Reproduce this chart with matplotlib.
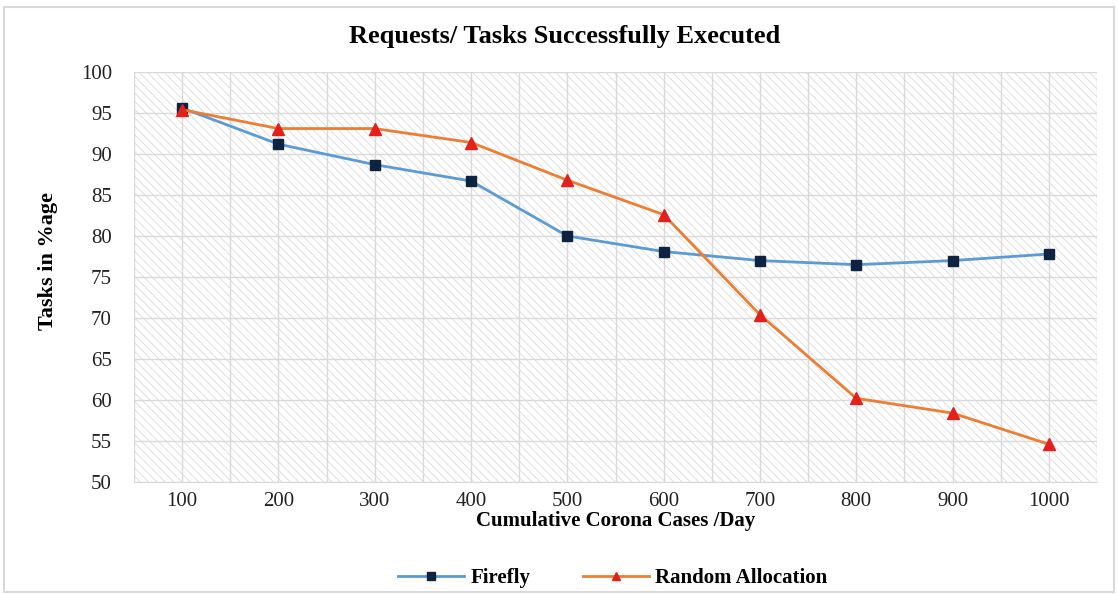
import matplotlib.pyplot as plt
from matplotlib.patches import Rectangle
from matplotlib.ticker import MultipleLocator

cases = [100, 200, 300, 400, 500, 600, 700, 800, 900, 1000]
firefly = [95.6, 91.2, 88.7, 86.7, 80.0, 78.1, 77.0, 76.5, 77.0, 77.8]
random_alloc = [95.4, 93.1, 93.1, 91.4, 86.8, 82.6, 70.4, 60.2, 58.4, 54.6]

plt.rcParams['font.family'] = ['Liberation Serif', 'DejaVu Serif']
plt.rcParams['hatch.linewidth'] = 0.5
plt.rcParams['hatch.color'] = '#d4d4d4'

fig = plt.figure(figsize=(11.18, 5.94), dpi=100)
ax = fig.add_axes([0.1199, 0.1886, 0.8613, 0.6902])

# hatched plot background
ax.add_patch(Rectangle((0, 0), 1, 1, transform=ax.transAxes, facecolor='white',
                       edgecolor='#d4d4d4', hatch='\\\\\\\\', linewidth=0, zorder=0))

ax.plot(cases, firefly, color='#5b9bd5', lw=2, marker='s', ms=7.5,
        mfc='#0e2340', mec='#0e2340', label='Firefly', zorder=3)
ax.plot(cases, random_alloc, color='#ed7d31', lw=2, marker='^', ms=8,
        mfc='#e3201b', mec='#e3201b', label='Random Allocation', zorder=3)

ax.set_xlim(50, 1050)
ax.set_ylim(50, 100)
ax.set_xticks(cases)
ax.xaxis.set_minor_locator(MultipleLocator(50))
ax.yaxis.set_major_locator(MultipleLocator(5))
ax.grid(True, which='both', color='#d9d9d9', lw=1, zorder=1)
ax.set_axisbelow(True)
ax.tick_params(which='both', length=0, labelsize=15, colors='#222222')
ax.tick_params(axis='y', pad=16)
ax.tick_params(axis='x', pad=7)

for s in ['top', 'right', 'left']:
    ax.spines[s].set_visible(False)
ax.spines['bottom'].set_color('#d9d9d9')

fig.text(0.505, 0.938, 'Requests/ Tasks Successfully Executed', fontsize=19,
         fontweight='bold', ha='center', va='center')
ax.set_xlabel('Cumulative Corona Cases /Day', fontsize=15, fontweight='bold', labelpad=0)
ax.set_ylabel('Tasks in %age', fontsize=16, fontweight='bold')
ax.yaxis.set_label_coords(-0.089, 0.54)
ax.yaxis.label.set_va('center')

ax.legend(loc='center', bbox_to_anchor=(0.548, 0.027), bbox_transform=fig.transFigure,
          ncol=2, frameon=False, prop={'weight': 'bold', 'size': 15},
          columnspacing=2.5, handlelength=3.2, handletextpad=0.3, markerscale=0.8)

fig.patches.append(Rectangle((0.004, 0.004), 0.992, 0.984, transform=fig.transFigure,
                             fill=False, edgecolor='#d9d9d9', lw=1.5))

fig.savefig('out.png', dpi=100)
